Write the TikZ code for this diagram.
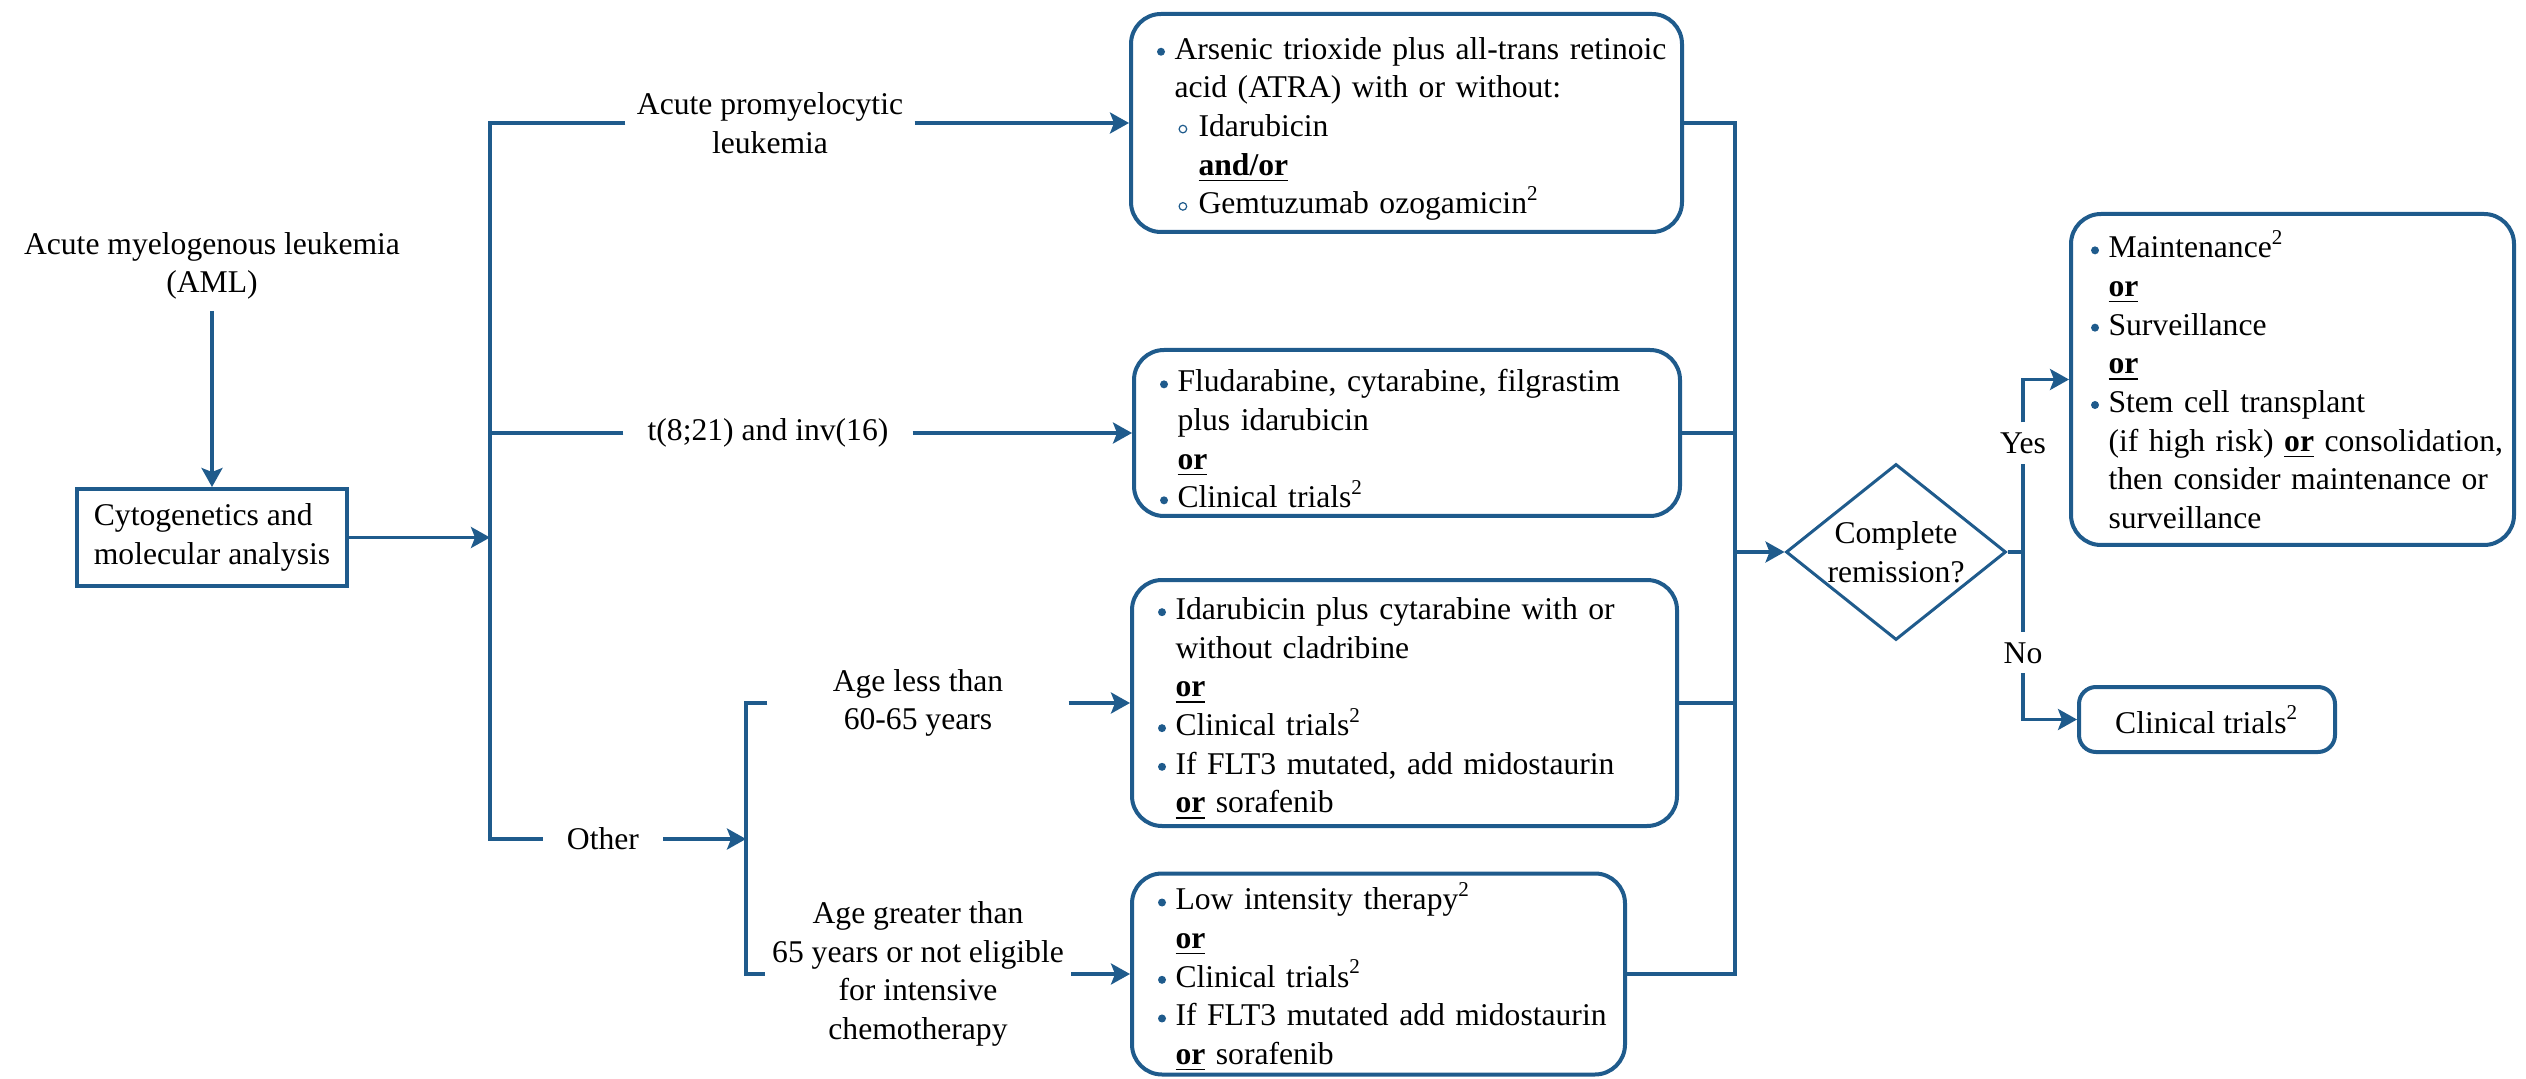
\documentclass[tikz,border=0pt]{standalone}
\usepackage{fontspec}
\setmainfont{Liberation Serif}
\usepackage{tikz}
\usetikzlibrary{arrows.meta,calc,positioning,shapes.geometric}
\usepackage{xcolor}
\definecolor{flowblue}{RGB}{31,91,140}

\newcommand{\bul}{\makebox[1.75mm][l]{\tikz[baseline=-2.1pt]\fill[flowblue] (0,0) circle (0.4mm);}}
\newcommand{\sbul}{\hspace*{0.4mm}\makebox[2mm][l]{\tikz[baseline=-2.1pt]\draw[flowblue,line width=0.12mm] (0,0) circle (0.38mm);}}
\newcommand{\itm}[1]{\mbox{\bul#1}}
\newcommand{\cnt}[1]{\mbox{\hspace*{1.75mm}#1}}
\newcommand{\subitm}[1]{\mbox{\hspace*{1.75mm}\sbul#1}}
\newcommand{\subcnt}[1]{\mbox{\hspace*{4.15mm}#1}}
\newcommand{\orr}{\underline{\textbf{or}}}
\newcommand{\topstrut}{\rule{0pt}{9.6pt}}

\begin{document}
\begin{tikzpicture}[x=0.1mm,y=-0.1mm,
  every node/.style={font=\fontsize{9}{11}\selectfont},
  conn/.style={draw=flowblue,line width=0.33mm},
  arr/.style={conn,-{Stealth[length=1.9mm,width=2.1mm,inset=0.4mm]}},
  box/.style={draw=flowblue,line width=0.4mm,rounded corners=3mm,align=left,inner ysep=0pt,inner xsep=2.6mm},
  lbl/.style={align=center,inner xsep=0pt}]
  \useasboundingbox (0,0) rectangle (2526,1079);

  \coordinate (t1) at (490,537.5);
  \coordinate (t2) at (746,839);
  \coordinate (t3) at (1735,552);

  \node[align=center,inner sep=3pt] (aml) at (212,266) {Acute myelogenous leukemia\\(AML)};
  \node[draw=flowblue,line width=0.4mm,align=left,minimum width=27mm,minimum height=9.7mm] (cyto) at (212,537.5) {Cytogenetics and\\molecular analysis};

  % branch labels
  \node[lbl,minimum width=28.8mm] (lapl) at (770,123) {Acute promyelocytic\\leukemia};
  \node[lbl,minimum width=28.8mm] (lt821) at (768,433) {t(8;21) and inv(16)};
  \node[lbl,minimum width=11.9mm] (lother) at (603,839) {Other};
  \node[lbl,minimum width=30mm] (lyoung) at (918,703) {Age less than\\60-65 years};
  \node[lbl,minimum width=30.5mm] (lold) at (918,974) {Age greater than\\65 years or not eligible\\for intensive\\chemotherapy};

  % treatment boxes
  \node[box,text width=49.9mm,minimum height=21.8mm] (bapl) at (1406.5,123) {%
    \topstrut\itm{Arsenic trioxide plus all-trans retinoic}\\
    \cnt{acid (ATRA) with or without:}\\
    \subitm{Idarubicin}\\
    \subcnt{\underline{\textbf{and/or}}}\\
    \subitm{Gemtuzumab ozogamicin\textsuperscript{2}}};
  \node[box,text width=49.4mm,minimum height=16.6mm] (bt821) at (1407,433) {%
    \topstrut\itm{Fludarabine, cytarabine, filgrastim}\\
    \cnt{plus idarubicin}\\
    \cnt{\orr}\\
    \itm{Clinical trials\textsuperscript{2}}};
  \node[box,text width=49.3mm,minimum height=24.6mm] (byoung) at (1404.5,703) {%
    \topstrut\itm{Idarubicin plus cytarabine with or}\\
    \cnt{without cladribine}\\
    \cnt{\orr}\\
    \itm{Clinical trials\textsuperscript{2}}\\
    \itm{If FLT3 mutated, add midostaurin}\\
    \cnt{\orr{} sorafenib}};
  \node[box,text width=44.1mm,minimum height=20.1mm] (bold) at (1378.5,974) {%
    \topstrut\itm{Low intensity therapy\textsuperscript{2}}\\
    \cnt{\orr}\\
    \itm{Clinical trials\textsuperscript{2}}\\
    \itm{If FLT3 mutated add midostaurin}\\
    \cnt{\orr{} sorafenib}};

  \node[diamond,draw=flowblue,line width=0.3mm,aspect=1.25,inner sep=0pt,minimum width=22mm,minimum height=17.6mm,align=center] (remis) at (1896,552) {Complete\\remission?};
  \node[lbl,inner sep=2.7pt,text height=6pt,text depth=0pt] (lyes) at (2023,443) {Yes};
  \node[lbl,inner sep=2.7pt,text height=6pt,text depth=0pt] (lno) at (2023,652.5) {No};

  \node[box,inner xsep=2mm,text width=40.3mm,minimum height=33.1mm] (bcr) at (2292.5,379.5) {%
    \itm{Maintenance\textsuperscript{2}}\\
    \cnt{\orr}\\
    \itm{Surveillance}\\
    \cnt{\orr}\\
    \itm{Stem cell transplant}\\
    \cnt{(if high risk) \orr{} consolidation,}\\
    \cnt{then consider maintenance or}\\
    \cnt{surveillance}};
  \node[box,rounded corners=1.7mm,align=center,minimum width=25.6mm,minimum height=6.5mm] (bct) at (2207,719.5) {Clinical trials\textsuperscript{2}};

  % connectors
  \draw[arr] (aml.south) -- (cyto.north);
  \draw[arr] (cyto.east) -- (t1);
  \draw[conn] (lapl.west) -| (t1) |- (lother.west);
  \draw[conn] (lt821.west) -- (lt821.west -| t1);
  \draw[arr] (lapl.east) -- (bapl.west);
  \draw[arr] (lt821.east) -- (bt821.west);
  \draw[arr] (lother.east) -- (t2);
  \draw[conn] (lyoung.west) -| (t2) |- (lold.west);
  \draw[arr] (lyoung.east) -- (byoung.west);
  \draw[arr] (lold.east) -- (bold.west);

  \draw[conn] (bapl.east) -| (t3) |- (bold.east);
  \draw[conn] (bt821.east) -- (bt821.east -| t3);
  \draw[conn] (byoung.east) -- (byoung.east -| t3);
  \draw[arr] (t3) -- (remis.west);

  \draw[conn] (remis.east) -| (lyes.south);
  \draw[arr] (lyes.north) |- (bcr.west);
  \draw[conn] (remis.east) -| (lno.north);
  \draw[arr] (lno.south) |- (bct.west);
\end{tikzpicture}
\end{document}
